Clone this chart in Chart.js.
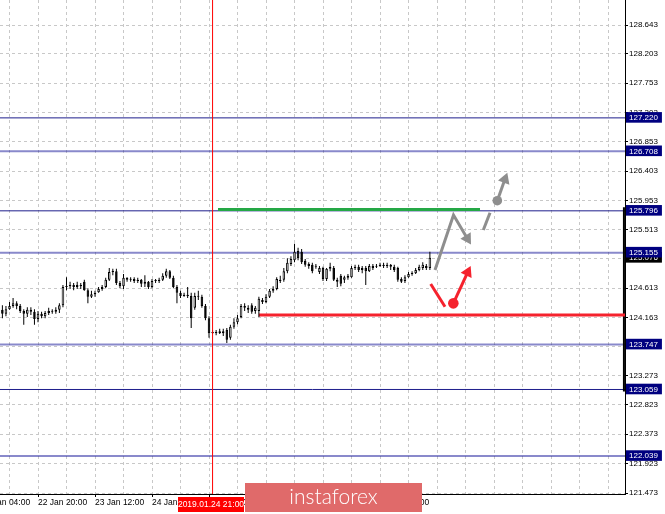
<!DOCTYPE html>
<html>
<head>
<meta charset="utf-8">
<script src="https://cdn.jsdelivr.net/npm/chart.js@4.4.1/dist/chart.umd.min.js"></script>
<style>
  html, body { margin: 0; padding: 0; background: #fff; }
  #wrap { width: 665px; height: 514px; }
</style>
</head>
<body>
<div id="wrap"><canvas id="chart" width="665" height="514"></canvas></div>
<script>
/* =========================
   DATA (hour index 0 = 22 Jan 20:00)
========================= */
const FIRST_HOUR = -11;

const opens = [
  124.25, 124.28, 124.22, 124.29, 124.34, 124.38, 124.34, 124.26, 124.22, 124.28,
  124.25, 124.14, 124.22, 124.18, 124.23, 124.26, 124.25, 124.28, 124.35, 124.63,
  124.64, 124.66, 124.63, 124.66, 124.71, 124.58, 124.48, 124.52, 124.55, 124.60,
  124.63, 124.74, 124.86, 124.87, 124.69, 124.64, 124.77, 124.74, 124.75, 124.72,
  124.74, 124.68, 124.71, 124.63, 124.72, 124.72, 124.74, 124.80, 124.87, 124.77,
  124.63, 124.54, 124.49, 124.51, 124.49, 124.31, 124.49, 124.48, 124.34, 124.15,
  123.92, 123.94, 123.92, 123.95, 123.97, 123.85, 124.02, 124.09, 124.17, 124.34,
  124.31, 124.35, 124.26, 124.26, 124.43, 124.40, 124.48, 124.57, 124.60, 124.74,
  124.74, 124.87, 124.98, 125.04, 125.18, 125.17, 125.03, 124.98, 124.97, 124.95,
  124.86, 124.92, 124.75, 124.91, 124.92, 124.74, 124.80, 124.74, 124.77, 124.78,
  124.92, 124.94, 124.89, 124.92, 124.87, 124.95, 124.94, 124.95, 124.97, 124.95,
  124.97, 124.94, 124.92, 124.75, 124.72, 124.78, 124.83, 124.84, 124.89, 124.92,
  124.95, 124.92
];
const highs = [
  124.34, 124.35, 124.34, 124.40, 124.46, 124.41, 124.37, 124.29, 124.32, 124.32,
  124.29, 124.26, 124.25, 124.26, 124.31, 124.29, 124.32, 124.38, 124.66, 124.78,
  124.71, 124.69, 124.71, 124.69, 124.74, 124.61, 124.57, 124.57, 124.63, 124.66,
  124.77, 124.92, 124.91, 124.91, 124.72, 124.83, 124.78, 124.78, 124.78, 124.77,
  124.75, 124.81, 124.72, 124.75, 124.75, 124.77, 124.84, 124.91, 124.89, 124.80,
  124.66, 124.57, 124.54, 124.63, 124.54, 124.54, 124.57, 124.51, 124.37, 124.18,
  123.97, 123.97, 123.99, 123.99, 124.00, 124.05, 124.15, 124.20, 124.37, 124.38,
  124.35, 124.38, 124.34, 124.48, 124.46, 124.52, 124.60, 124.64, 124.78, 124.80,
  124.92, 125.07, 125.10, 125.29, 125.23, 125.21, 125.06, 125.01, 125.00, 124.98,
  124.95, 124.94, 124.92, 125.00, 124.95, 124.77, 124.83, 124.80, 124.83, 124.95,
  124.97, 124.97, 124.95, 124.95, 124.98, 124.98, 124.98, 125.00, 125.00, 125.00,
  124.98, 124.97, 124.94, 124.78, 124.81, 124.86, 124.87, 124.92, 124.97, 125.01,
  124.98, 125.17
];
const lows = [
  124.15, 124.15, 124.18, 124.28, 124.31, 124.29, 124.23, 124.05, 124.17, 124.20,
  124.05, 124.09, 124.15, 124.15, 124.20, 124.22, 124.22, 124.23, 124.32, 124.58,
  124.60, 124.58, 124.60, 124.60, 124.57, 124.38, 124.46, 124.48, 124.54, 124.57,
  124.61, 124.72, 124.81, 124.66, 124.61, 124.60, 124.71, 124.71, 124.69, 124.69,
  124.63, 124.63, 124.60, 124.61, 124.69, 124.69, 124.72, 124.77, 124.75, 124.61,
  124.38, 124.46, 124.48, 124.46, 124.00, 124.28, 124.43, 124.31, 124.12, 123.85,
  123.91, 123.89, 123.91, 123.88, 123.77, 123.82, 123.99, 124.06, 124.15, 124.26,
  124.23, 124.22, 124.22, 124.17, 124.37, 124.38, 124.46, 124.54, 124.58, 124.69,
  124.71, 124.84, 124.95, 125.01, 125.04, 124.98, 124.94, 124.91, 124.84, 124.91,
  124.83, 124.72, 124.72, 124.87, 124.72, 124.63, 124.64, 124.69, 124.74, 124.77,
  124.89, 124.86, 124.84, 124.66, 124.86, 124.89, 124.92, 124.94, 124.92, 124.92,
  124.89, 124.86, 124.71, 124.69, 124.69, 124.77, 124.80, 124.83, 124.87, 124.89,
  124.89, 124.89
];
const closes = [
  124.28, 124.22, 124.29, 124.34, 124.38, 124.34, 124.26, 124.22, 124.28, 124.25,
  124.14, 124.22, 124.18, 124.23, 124.26, 124.25, 124.28, 124.35, 124.63, 124.64,
  124.66, 124.63, 124.66, 124.64, 124.58, 124.48, 124.52, 124.54, 124.60, 124.63,
  124.74, 124.86, 124.87, 124.69, 124.64, 124.77, 124.74, 124.75, 124.72, 124.74,
  124.68, 124.71, 124.63, 124.72, 124.73, 124.74, 124.80, 124.87, 124.77, 124.63,
  124.54, 124.49, 124.51, 124.49, 124.15, 124.49, 124.48, 124.34, 124.15, 123.92,
  123.94, 123.92, 123.95, 123.92, 123.82, 124.02, 124.09, 124.15, 124.34, 124.31,
  124.28, 124.25, 124.31, 124.45, 124.40, 124.48, 124.57, 124.60, 124.75, 124.72,
  124.87, 125.00, 125.06, 125.17, 125.07, 125.01, 124.97, 124.95, 124.87, 124.94,
  124.92, 124.75, 124.91, 124.94, 124.74, 124.71, 124.68, 124.78, 124.80, 124.92,
  124.94, 124.89, 124.92, 124.87, 124.95, 124.92, 124.95, 124.97, 124.95, 124.97,
  124.94, 124.89, 124.74, 124.71, 124.78, 124.83, 124.84, 124.89, 124.94, 124.97,
  124.92, 125.076
];

// axis labels
const xLabelHours = [-16, 0, 16, 32, 48, 64, 80, 96];
const xLabels = ["22 Jan 04:00", "22 Jan 20:00", "23 Jan 12:00", "24 Jan 04:00",
                 "24 Jan 20:00", "25 Jan 12:00", "28 Jan 04:00", "28 Jan 20:00"];
const priceTicks = [128.643, 128.203, 127.753, 127.303, 126.853, 126.403, 125.953, 125.513,
                    125.063, 124.613, 124.163, 123.723, 123.273, 122.823, 122.373, 121.923, 121.473];
const levelPrices = [127.220, 126.708, 125.796, 125.155, 123.747, 123.059, 122.039];
const lightLevels = [126.708, 125.155, 123.747, 122.039];
const currentPrice = 125.076;

// drawn objects (hour, price)
const markerHour = 49;
const markerLabel = "2019.01.24 21:00";
const greenLevel = [[50.53, 125.816], [124.07, 125.816]];
const redLevelStart = [62.0, 124.20];
const edgeBar = [125.85, 123.03];
const grayZigzag = [[111.44, 124.889], [116.63, 125.732], [120.52, 125.372]];
const grayDash = [[125.0, 125.502], [126.88, 125.767]];
const grayArrow = [[128.93, 125.951], [131.06, 126.279]];
const redStroke = [[110.23, 124.675], [114.25, 124.327]];
const redArrow = [[116.58, 124.379], [120.6, 124.854]];

/* =========================
   RANGES
========================= */
const X_MIN = -10.67, X_MAX = 164.77;
const Y_MIN = 121.458, Y_MAX = 129.026;

const GRAY = "#8e8e8e";
const RED = "#f5222d";
const TRANSPARENT = "rgba(0,0,0,0)";
const AXIS_FONT = { family: "'Liberation Sans Narrow', 'Liberation Sans', sans-serif", size: 8.5 };

/* =========================
   HELPERS
========================= */
const pts = arr => arr.map(p => ({ x: p[0], y: p[1] }));
const isLevel = v => levelPrices.some(l => Math.abs(l - v) < 1e-6);
const isCurrent = v => Math.abs(v - currentPrice) < 1e-6;

function lineSet(data, color, width, order, extra = {}) {
    return Object.assign({
        type: "line",
        data: data,
        borderColor: color,
        backgroundColor: color,
        borderWidth: width,
        pointRadius: 0,
        tension: 0,
        order: order
    }, extra);
}

function arrowSet(data, color, rotation, order) {
    const last = data.length - 1;
    return lineSet(pts(data), color, 3, order, {
        pointRadius: c => c.dataIndex === last ? 7 : 0,
        pointStyle: "triangle",
        pointRotation: rotation,
        pointBackgroundColor: color,
        pointBorderWidth: 0
    });
}

function dotSet(point, color, radius, order) {
    return lineSet(pts([point]), color, 0, order, {
        showLine: false,
        pointRadius: radius,
        pointBackgroundColor: color,
        pointBorderWidth: 0
    });
}

/* =========================
   DATASETS
========================= */
const datasets = [];

levelPrices.forEach(v => {
    const light = lightLevels.includes(v);
    datasets.push(lineSet([{ x: X_MIN, y: v }, { x: X_MAX, y: v }],
        light ? "rgba(40,40,160,0.55)" : "#1e1e8c", light ? 2 : 1, 20));
});

datasets.push(lineSet(pts(greenLevel), "#25a846", 3, 15));
datasets.push(lineSet([{ x: redLevelStart[0], y: redLevelStart[1] }, { x: X_MAX, y: redLevelStart[1] }], RED, 3, 15));
datasets.push(lineSet([{ x: X_MAX - 0.3, y: edgeBar[0] }, { x: X_MAX - 0.3, y: edgeBar[1] }], "#000", 2, 15));

datasets.push({
    type: "bar",
    data: lows.map((l, i) => ({ x: FIRST_HOUR + i, y: [l, highs[i]] })),
    backgroundColor: "#000",
    borderWidth: 0,
    grouped: false,
    maxBarThickness: 1,
    order: 10
});

datasets.push({
    type: "bar",
    data: opens.map((o, i) => ({ x: FIRST_HOUR + i, y: [o, closes[i]] })),
    backgroundColor: opens.map((o, i) => closes[i] >= o ? "#fff" : "#000"),
    borderColor: "#000",
    borderWidth: 1,
    borderSkipped: false,
    minBarLength: 1,
    grouped: false,
    maxBarThickness: 3,
    order: 9
});

datasets.push(lineSet([{ x: markerHour, y: Y_MIN }, { x: markerHour, y: Y_MAX }], "#ff0000", 1, 5));

datasets.push(arrowSet(grayZigzag, GRAY, 148.6, 2));
datasets.push(lineSet(pts(grayDash), GRAY, 3, 2));
datasets.push(arrowSet(grayArrow, GRAY, 20, 2));
datasets.push(dotSet(grayArrow[0], GRAY, 4.8, 1));
datasets.push(lineSet(pts(redStroke), RED, 3, 2));
datasets.push(arrowSet(redArrow, RED, 25.6, 2));
datasets.push(dotSet(redArrow[0], RED, 5.3, 1));

/* =========================
   OVERLAY (time marker + watermark)
========================= */
const overlay = {
    id: "overlay",
    afterDraw(chart) {
        const ctx = chart.ctx;
        const px = Math.round(chart.scales.x.getPixelForValue(markerHour));
        ctx.save();
        ctx.fillStyle = "#ff0000";
        ctx.fillRect(px - 35, 497, 66, 15);
        ctx.fillStyle = "#fff";
        ctx.font = "8.5px 'Liberation Sans Narrow', 'Liberation Sans', sans-serif";
        ctx.textAlign = "center";
        ctx.textBaseline = "middle";
        ctx.fillText(markerLabel, px - 2, 504.5);

        ctx.fillStyle = "#e06a6a";
        ctx.fillRect(245, 483, 177, 29);
        ctx.fillStyle = "#fff";
        ctx.font = "300 21px Lato, 'Open Sans', sans-serif";
        ctx.fillText("instaforex", 333.5, 497);
        ctx.restore();
    }
};

/* =========================
   CHART
========================= */
new Chart(document.getElementById("chart"), {
    type: "bar",
    data: { datasets: datasets },
    plugins: [overlay],
    options: {
        responsive: false,
        animation: false,
        layout: { padding: 0, autoPadding: false },
        plugins: { legend: { display: false }, tooltip: { enabled: false } },
        scales: {
            x: {
                type: "linear",
                min: X_MIN,
                max: X_MAX,
                offset: false,
                afterBuildTicks: s => {
                    const t = [];
                    for (let h = -16; h <= 160; h += 8) t.push({ value: h });
                    s.ticks = t;
                },
                afterFit: s => { s.height = 20; s.paddingLeft = 0; s.paddingRight = 0; },
                grid: {
                    offset: false,
                    color: "#c8c8c8",
                    tickLength: 3,
                    tickColor: c => (c.tick && xLabelHours.includes(c.tick.value)) ? "#000" : TRANSPARENT,
                    tickBorderDash: []
                },
                border: { display: true, color: "#000", width: 1, dash: [3, 3] },
                ticks: {
                    autoSkip: false,
                    maxRotation: 0,
                    minRotation: 0,
                    align: "start",
                    padding: 1,
                    color: "#000",
                    font: AXIS_FONT,
                    callback: v => {
                        const i = xLabelHours.indexOf(v);
                        return i >= 0 ? xLabels[i] : "";
                    }
                }
            },
            y: {
                type: "linear",
                position: "right",
                min: Y_MIN,
                max: Y_MAX,
                afterBuildTicks: s => {
                    s.ticks = priceTicks.map(v => ({ value: v }))
                        .concat([{ value: currentPrice }])
                        .concat(levelPrices.map(v => ({ value: v })));
                },
                afterFit: s => { s.width = 40; s.paddingTop = 0; s.paddingBottom = 0; },
                grid: {
                    color: c => (c.tick && (isLevel(c.tick.value) || isCurrent(c.tick.value))) ? TRANSPARENT : "#c8c8c8",
                    tickLength: 3,
                    tickColor: c => (c.tick && (isLevel(c.tick.value) || isCurrent(c.tick.value))) ? TRANSPARENT : "#000",
                    tickBorderDash: []
                },
                border: { display: true, color: "#000", width: 1, dash: [3, 3] },
                ticks: {
                    autoSkip: false,
                    padding: 1,
                    font: { family: "'Liberation Sans', sans-serif", size: 8 },
                    color: c => (c.tick && (isLevel(c.tick.value) || isCurrent(c.tick.value))) ? "#fff" : "#000",
                    showLabelBackdrop: true,
                    backdropColor: c => {
                        if (!c.tick) return TRANSPARENT;
                        if (isLevel(c.tick.value)) return "#000080";
                        if (isCurrent(c.tick.value)) return "#000";
                        return TRANSPARENT;
                    },
                    backdropPadding: { top: 1, bottom: 0, left: 3, right: 4 },
                    callback: v => v.toFixed(3)
                }
            }
        }
    }
});
</script>
</body>
</html>
